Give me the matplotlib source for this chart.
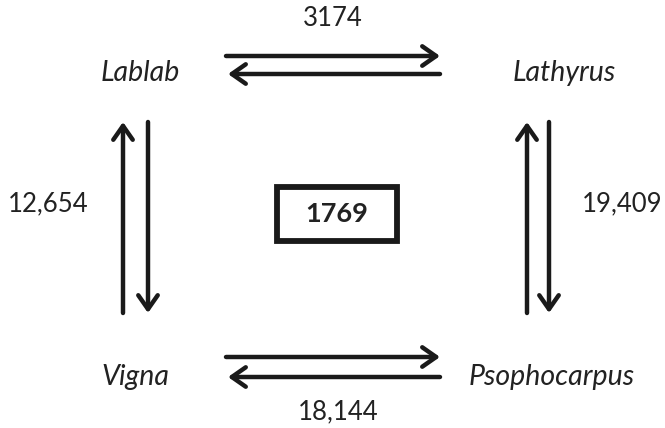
import matplotlib.pyplot as plt

# Diagram content
NODES = ['Lablab', 'Lathyrus', 'Vigna', 'Psophocarpus']
NODE_XY = [(140, 73), (564, 73), (135, 377), (552, 377)]
EDGE_COUNTS = ['3174', '19,409', '18,144', '12,654']
CENTER_COUNT = '1769'

FONT = 'Lato'
LW = 3.2

fig = plt.figure(figsize=(6.65, 4.28), dpi=100)
ax = fig.add_axes([0, 0, 1, 1])
ax.set_xlim(0, 665)
ax.set_ylim(428, 0)
ax.axis('off')

for name, (x, y) in zip(NODES, NODE_XY):
    ax.text(x, y, name, style='italic', fontsize=20.5, family=FONT,
            ha='center', va='center', color='#222222')


def arrow(x0, y0, x1, y1):
    ax.annotate('', xy=(x1, y1), xytext=(x0, y0),
                arrowprops=dict(arrowstyle='->,head_length=1.0,head_width=0.7',
                                lw=LW, color='#1a1a1a', shrinkA=0, shrinkB=0))


# top pair
arrow(226, 56, 440, 56)
arrow(440, 74, 228, 74)
# bottom pair
arrow(226, 357, 440, 357)
arrow(440, 377, 228, 377)
# left pair
arrow(123, 313, 123, 122)
arrow(148, 122, 148, 313)
# right pair
arrow(527, 313, 527, 122)
arrow(549, 122, 549, 313)

label_xy = [(333, 18), (622, 204), (338, 412), (48, 204)]
for txt, (x, y) in zip(EDGE_COUNTS, label_xy):
    ax.text(x, y, txt, fontsize=18.5, family=FONT, ha='center', va='center',
            color='#222222')

ax.add_patch(plt.Rectangle((277, 187), 120, 54, fill=False, lw=4.2, ec='#1a1a1a'))
ax.text(337, 214, CENTER_COUNT, fontsize=19.5, fontweight='bold', family=FONT,
        ha='center', va='center', color='#222222')

fig.savefig('out.png', dpi=100)
